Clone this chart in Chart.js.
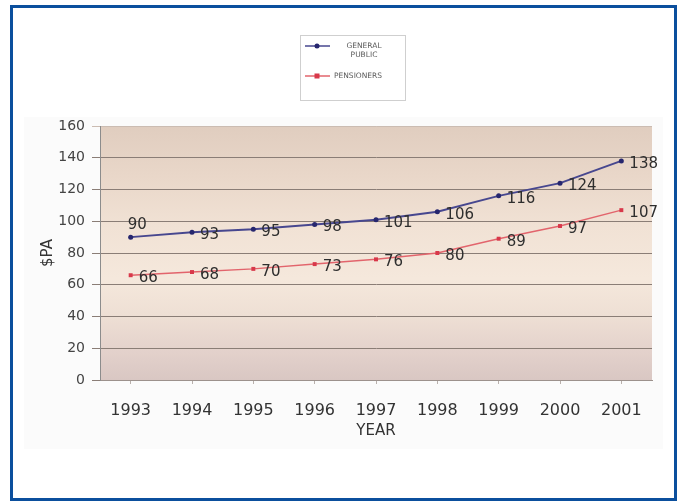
<!DOCTYPE html>
<html>
<head>
<meta charset="utf-8">
<script src="https://cdn.jsdelivr.net/npm/chart.js@4"></script>
<style>
  html, body { margin: 0; padding: 0; background: #ffffff; }
  #wrap { position: relative; width: 684px; height: 501px; overflow: hidden; }
  #panel { position: absolute; left: 24px; top: 117px; width: 639px; height: 332px; background: #fbfbfb; }
  #c { position: absolute; left: 0; top: 0; }
  #frame { position: absolute; left: 10px; top: 5px; width: 667px; height: 496px; box-sizing: border-box;
           border: 3px solid #0b4f9d; pointer-events: none; }
</style>
</head>
<body>
<div id="wrap">
  <div id="panel"></div>
  <canvas id="c" width="684" height="501"></canvas>
  <div id="frame"></div>
</div>
<script>
// Annual cost per person, 1993-2001
const years = ['1993', '1994', '1995', '1996', '1997', '1998', '1999', '2000', '2001'];
const generalPublic = [90, 93, 95, 98, 101, 106, 116, 124, 138];
const pensioners = [66, 68, 70, 73, 76, 80, 89, 97, 107];
const yTicks = [0, 20, 40, 60, 80, 100, 120, 140, 160];
const seriesNames = [['GENERAL', 'PUBLIC'], ['PENSIONERS']];

const FONT = '"DejaVu Sans", "Liberation Sans", Arial, sans-serif';

// Shaded plot area behind the lines
const plotBackground = {
  id: 'plotBackground',
  beforeDraw(chart) {
    const { ctx, chartArea: a } = chart;
    const g = ctx.createLinearGradient(0, a.top, 0, a.bottom);
    g.addColorStop(0.00, '#e0cdbf');
    g.addColorStop(0.20, '#e9d7c9');
    g.addColorStop(0.40, '#f1e2d5');
    g.addColorStop(0.60, '#f5e8dc');
    g.addColorStop(0.75, '#eedfd4');
    g.addColorStop(0.88, '#e4d2cc');
    g.addColorStop(1.00, '#d9c7c3');
    ctx.save();
    ctx.fillStyle = g;
    ctx.fillRect(a.left, a.top, a.right - a.left, a.bottom - a.top);
    ctx.restore();
  }
};

// Value printed next to every point
const valueLabels = {
  id: 'valueLabels',
  afterDatasetsDraw(chart) {
    const { ctx } = chart;
    ctx.save();
    ctx.font = '15px ' + FONT;
    ctx.fillStyle = '#2e2e2e';
    ctx.textAlign = 'left';
    ctx.textBaseline = 'middle';
    chart.data.datasets.forEach((ds, di) => {
      const meta = chart.getDatasetMeta(di);
      meta.data.forEach((pt, i) => {
        let x = pt.x + 8, y = pt.y + 3;
        if (di === 0 && i === 0) { x = pt.x - 3; y = pt.y - 12; }
        ctx.fillText(String(ds.data[i]), x, y);
      });
    });
    ctx.restore();
  }
};

// Boxed legend with the series stacked vertically
const boxLegend = {
  id: 'boxLegend',
  afterDraw(chart) {
    const { ctx } = chart;
    const box = { x: 300.5, y: 35.5, w: 105, h: 65 };
    ctx.save();
    ctx.fillStyle = '#ffffff';
    ctx.fillRect(box.x, box.y, box.w, box.h);
    ctx.strokeStyle = '#cfcfcf';
    ctx.lineWidth = 1;
    ctx.strokeRect(box.x, box.y, box.w, box.h);
    const rows = [46, 76];
    ctx.font = '7.5px ' + FONT;
    ctx.textBaseline = 'middle';
    ctx.textAlign = 'left';
    chart.data.datasets.forEach((ds, di) => {
      const y = rows[di];
      ctx.strokeStyle = ds.borderColor;
      ctx.lineWidth = 1.5;
      ctx.beginPath();
      ctx.moveTo(305, y);
      ctx.lineTo(330, y);
      ctx.stroke();
      ctx.fillStyle = ds.pointBackgroundColor;
      if (ds.pointStyle === 'rect') {
        ctx.fillRect(314.5, y - 2.5, 5, 5);
      } else {
        ctx.beginPath();
        ctx.arc(317, y, 2.5, 0, Math.PI * 2);
        ctx.fill();
      }
      ctx.fillStyle = '#5a5a5a';
      seriesNames[di].forEach((line, li) => {
        const lw = ctx.measureText(line).width;
        const tx = seriesNames[di].length > 1 ? 334 + (60 - lw) / 2 : 334;
        ctx.fillText(line, tx, y + li * 9);
      });
    });
    ctx.restore();
  }
};

new Chart(document.getElementById('c'), {
  type: 'line',
  data: {
    labels: years,
    datasets: [
      {
        label: seriesNames[0].join(' '),
        data: generalPublic,
        borderColor: '#47478f',
        borderWidth: 2,
        pointStyle: 'circle',
        pointRadius: 2.5,
        pointBackgroundColor: '#26266e',
        pointBorderColor: '#26266e',
        pointBorderWidth: 0,
        tension: 0
      },
      {
        label: seriesNames[1].join(' '),
        data: pensioners,
        borderColor: '#e2646c',
        borderWidth: 1.5,
        pointStyle: 'rect',
        pointRadius: 2.8,
        pointBackgroundColor: '#d8384a',
        pointBorderColor: '#d8384a',
        pointBorderWidth: 0,
        tension: 0
      }
    ]
  },
  options: {
    responsive: false,
    animation: false,
    events: [],
    layout: { padding: { top: 126, right: 32, bottom: 51, left: 0 } },
    plugins: {
      legend: { display: false },
      tooltip: { enabled: false }
    },
    scales: {
      x: {
        type: 'category',
        offset: true,
        afterFit(s) { s.height = 70; },
        grid: { display: true, drawOnChartArea: false, tickLength: 4, color: '#b8b0ac' },
        border: { display: true, color: '#9c918c', width: 1 },
        ticks: { color: '#333333', font: { family: FONT, size: 16 }, padding: 17, maxRotation: 0, autoSkip: false },
        title: { display: true, text: 'YEAR', color: '#333333', font: { family: FONT, size: 15 }, padding: { top: 0, bottom: 10 } }
      },
      y: {
        min: 0,
        max: 160,
        afterFit(s) { s.width = 100; },
        afterBuildTicks(s) { s.ticks = yTicks.map(v => ({ value: v })); },
        grid: {
          color: (c) => (c.tick && c.tick.value === 160) ? '#cbbcb2' : '#8a7d76',
          lineWidth: 1,
          tickLength: 8
        },
        border: { display: true, color: '#8c8c8c', width: 1 },
        ticks: { color: '#444444', font: { family: FONT, size: 14 }, padding: 7 },
        title: { display: true, text: '$PA', color: '#333333', font: { family: FONT, size: 15 }, padding: { top: 39, bottom: 0 } }
      }
    }
  },
  plugins: [plotBackground, valueLabels, boxLegend]
});
</script>
</body>
</html>
